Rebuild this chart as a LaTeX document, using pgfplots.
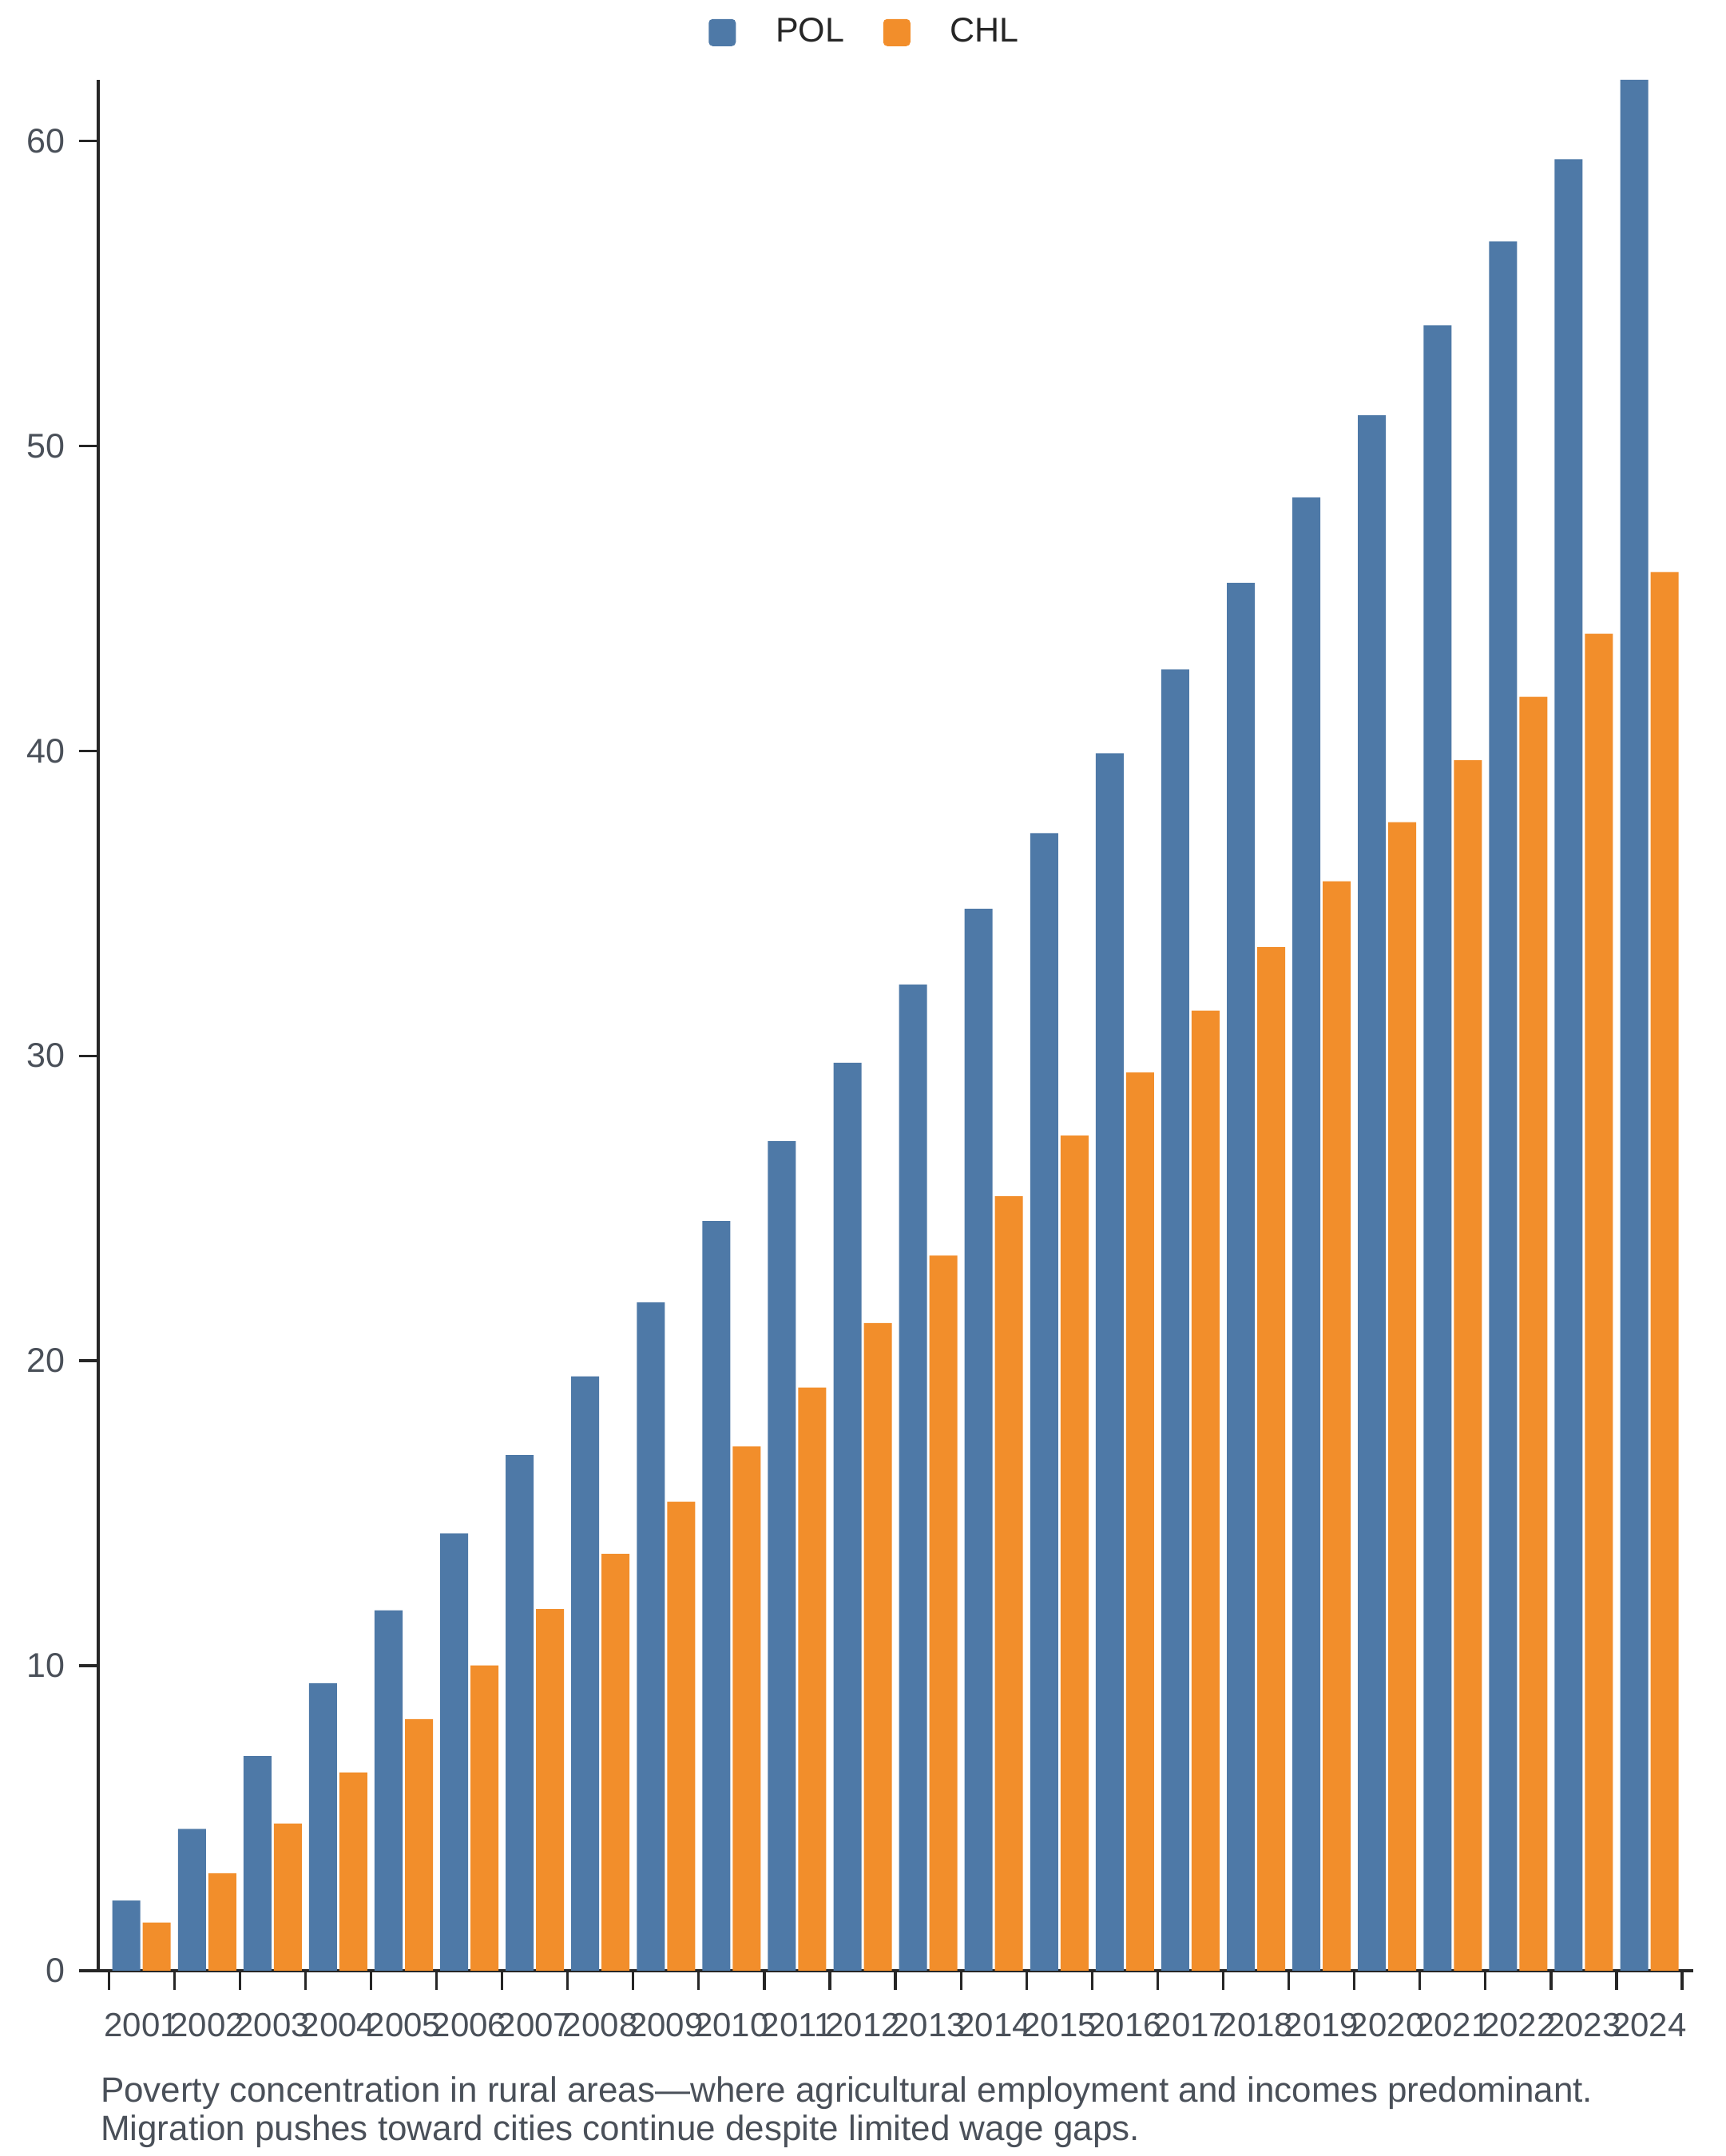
\documentclass[border=0pt]{standalone}
\usepackage{pgfplots}
\pgfplotsset{compat=1.18}
\usepackage{fontspec}
\setmainfont{Liberation Sans}
\definecolor{cpol}{HTML}{4E79A7}
\definecolor{cchl}{HTML}{F28E2B}
\definecolor{ctext}{HTML}{4A5059}
\definecolor{caxis}{HTML}{262626}
\begin{document}
\begin{tikzpicture}
\begin{axis}[
  at={(24.6pt,46.4pt)}, anchor=south west,
  scale only axis, width=399.4pt, height=473.6pt,
  xmin=-0.66, xmax=23.67, ymin=0, ymax=62,
  axis x line*=bottom, axis y line*=left,
  axis line style={-, line width=0.7pt, caxis},
  ybar, bar width=7pt,
  xtick={-0.5,0.5,...,23.5},
  xticklabels={2001,2002,2003,2004,2005,2006,2007,2008,2009,2010,2011,2012,2013,2014,2015,2016,2017,2018,2019,2020,2021,2022,2023,2024,{}},
  xticklabel style={xshift=8.2pt, yshift=-2.4pt, font=\fontsize{8.4}{10}\selectfont, text=ctext},
  ytick={0,10,...,60},
  yticklabel style={font=\fontsize{8.6}{10}\selectfont, text=ctext},
  /pgf/number format/assume math mode=true,
  tick align=outside, major tick length=4.8pt,
  tick style={line width=0.65pt, caxis},
  legend columns=2,
  legend style={draw=none, fill=none, at={(0.4825,1.025)}, anchor=center,
    font=\fontsize{8.6}{10}\selectfont, text=caxis,
    /tikz/every odd column/.append style={column sep=8pt},
    /tikz/every even column/.append style={column sep=7.7pt}},
  legend image code/.code={\fill[#1, rounded corners=1pt] (0pt,-3.4pt) rectangle (6.8pt,3.4pt);},
]
\addplot[fill=cpol, draw=none, bar shift=-3.8pt] coordinates {
(0,2.3) (1,4.65) (2,7.04) (3,9.43) (4,11.82) (5,14.34) (6,16.91) (7,19.49) (8,21.92) (9,24.58) (10,27.2) (11,29.77) (12,32.34) (13,34.82) (14,37.3) (15,39.92) (16,42.67) (17,45.51) (18,48.31) (19,51.0) (20,53.95) (21,56.7) (22,59.4) (23,62.0)};
\addplot[fill=cchl, draw=none, bar shift=3.8pt] coordinates {
(0,1.58) (1,3.2) (2,4.83) (3,6.5) (4,8.25) (5,10.01) (6,11.86) (7,13.67) (8,15.38) (9,17.19) (10,19.12) (11,21.24) (12,23.45) (13,25.39) (14,27.38) (15,29.45) (16,31.48) (17,33.56) (18,35.72) (19,37.66) (20,39.69) (21,41.77) (22,43.84) (23,45.86)};
\legend{POL,CHL}
\end{axis}
\node[anchor=base west, inner sep=0pt, text=ctext, font=\fontsize{8.8}{10}\selectfont] at (25pt,13.6pt) {Poverty concentration in rural areas—where agricultural employment and incomes predominant.};
\node[anchor=base west, inner sep=0pt, text=ctext, font=\fontsize{8.8}{10}\selectfont] at (25pt,4pt) {Migration pushes toward cities continue despite limited wage gaps.};
\pgfresetboundingbox
\useasboundingbox (0,0) rectangle (432pt,540pt);
\end{tikzpicture}
\end{document}
